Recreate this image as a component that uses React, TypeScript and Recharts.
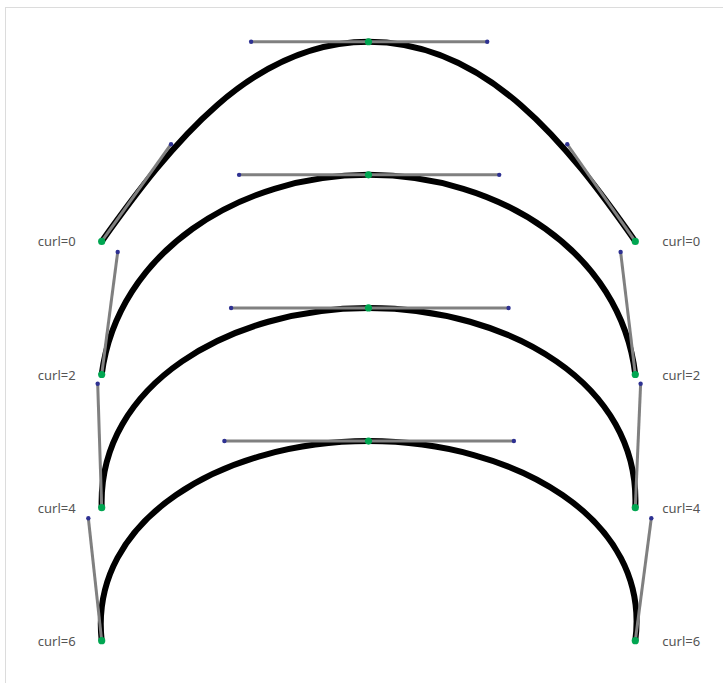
import React from 'react';
import { ComposedChart, Line, Scatter, XAxis, YAxis } from 'recharts';

type Pt = { x: number; y: number };

// control polygon of each curve: end, handle, handle, top, handle, handle, end
const curlValues = [0, 2, 4, 6];

const curl0Points: Pt[] = [
  { x: 0, y: 3 }, { x: 0.52, y: 3.73 }, { x: 1.12, y: 4.5 }, { x: 2, y: 4.5 },
  { x: 2.89, y: 4.5 }, { x: 3.49, y: 3.73 }, { x: 4, y: 3 },
];
const curl2Points: Pt[] = [
  { x: 0, y: 2 }, { x: 0.12, y: 2.92 }, { x: 1.03, y: 3.5 }, { x: 2, y: 3.5 },
  { x: 2.98, y: 3.5 }, { x: 3.89, y: 2.92 }, { x: 4, y: 2 },
];
const curl4Points: Pt[] = [
  { x: 0, y: 1 }, { x: -0.03, y: 1.93 }, { x: 0.97, y: 2.5 }, { x: 2, y: 2.5 },
  { x: 3.05, y: 2.5 }, { x: 4.04, y: 1.93 }, { x: 4, y: 1 },
];
const curl6Points: Pt[] = [
  { x: 0, y: 0 }, { x: -0.1, y: 0.92 }, { x: 0.92, y: 1.5 }, { x: 2, y: 1.5 },
  { x: 3.09, y: 1.5 }, { x: 4.12, y: 0.92 }, { x: 4, y: 0 },
];

const curves = [curl0Points, curl2Points, curl4Points, curl6Points];

// d3 curve factory: treats points as cubic bezier control points
const bezierCurve = (context: any) => {
  let pts: number[][] = [];
  return {
    areaStart() {},
    areaEnd() {},
    lineStart() {
      pts = [];
    },
    lineEnd() {
      if (!pts.length) return;
      context.moveTo(pts[0][0], pts[0][1]);
      for (let i = 1; i + 2 < pts.length; i += 3) {
        context.bezierCurveTo(pts[i][0], pts[i][1], pts[i + 1][0], pts[i + 1][1], pts[i + 2][0], pts[i + 2][1]);
      }
    },
    point(x: number, y: number) {
      pts.push([x, y]);
    },
  };
};

const handleDots = curves.flatMap((c) => [c[1], c[2], c[4], c[5]]);
const knotDots = curves.flatMap((c) => [c[0], c[3], c[6]]);
const leftLabels = curves.map((c, i) => ({ ...c[0], text: `curl=${curlValues[i]}` }));
const rightLabels = curves.map((c, i) => ({ ...c[6], text: `curl=${curlValues[i]}` }));

const W = 723;
const H = 683;

const labelShape = (dx: number, anchor: 'start' | 'end') => (p: any) => (
  <text
    x={p.cx + dx}
    y={p.cy}
    textAnchor={anchor}
    dominantBaseline="central"
    fontFamily="'Noto Sans', sans-serif"
    fontSize={13}
    fill="#555"
  >
    {p.payload.text}
  </text>
);

export default function App() {
  return (
    <div style={{ position: 'relative', width: W, height: H, overflow: 'hidden', background: '#fff' }}>
      <style>{'body{margin:0}'}</style>
      <div
        style={{
          position: 'absolute',
          left: 5,
          top: 7,
          width: 760,
          height: 720,
          borderLeft: '1px solid #dcdcdc',
          borderTop: '1px solid #dcdcdc',
        }}
      />
      <div style={{ position: 'absolute', left: 0, top: 0 }}>
        <ComposedChart width={W} height={H} margin={{ top: 0, right: 0, bottom: 0, left: 0 }}>
          <XAxis type="number" dataKey="x" domain={[-0.7623, 4.6575]} hide allowDataOverflow />
          <YAxis type="number" dataKey="y" domain={[-0.3178, 4.8137]} hide allowDataOverflow />
          {curves.map((c, i) => (
            <Line
              key={`curve-${i}`}
              data={c}
              dataKey="y"
              type={bezierCurve as any}
              stroke="#000"
              strokeWidth={6}
              dot={false}
              activeDot={false}
              isAnimationActive={false}
            />
          ))}
          {curves.flatMap((c, i) => [
            [c[0], c[1]],
            [c[2], c[3], c[4]],
            [c[5], c[6]],
          ].map((seg, j) => (
            <Line
              key={`handle-${i}-${j}`}
              data={seg}
              dataKey="y"
              type="linear"
              stroke="#808080"
              strokeWidth={3}
              dot={false}
              activeDot={false}
              isAnimationActive={false}
            />
          )))}
          <Scatter
            data={handleDots}
            isAnimationActive={false}
            shape={(p: any) => <circle cx={p.cx} cy={p.cy} r={2.2} fill="#2e3192" />}
          />
          <Scatter
            data={knotDots}
            isAnimationActive={false}
            shape={(p: any) => <circle cx={p.cx} cy={p.cy} r={3.6} fill="#00a651" />}
          />
          <Scatter data={leftLabels} isAnimationActive={false} shape={labelShape(-26, 'end')} />
          <Scatter data={rightLabels} isAnimationActive={false} shape={labelShape(27, 'start')} />
        </ComposedChart>
      </div>
    </div>
  );
}
